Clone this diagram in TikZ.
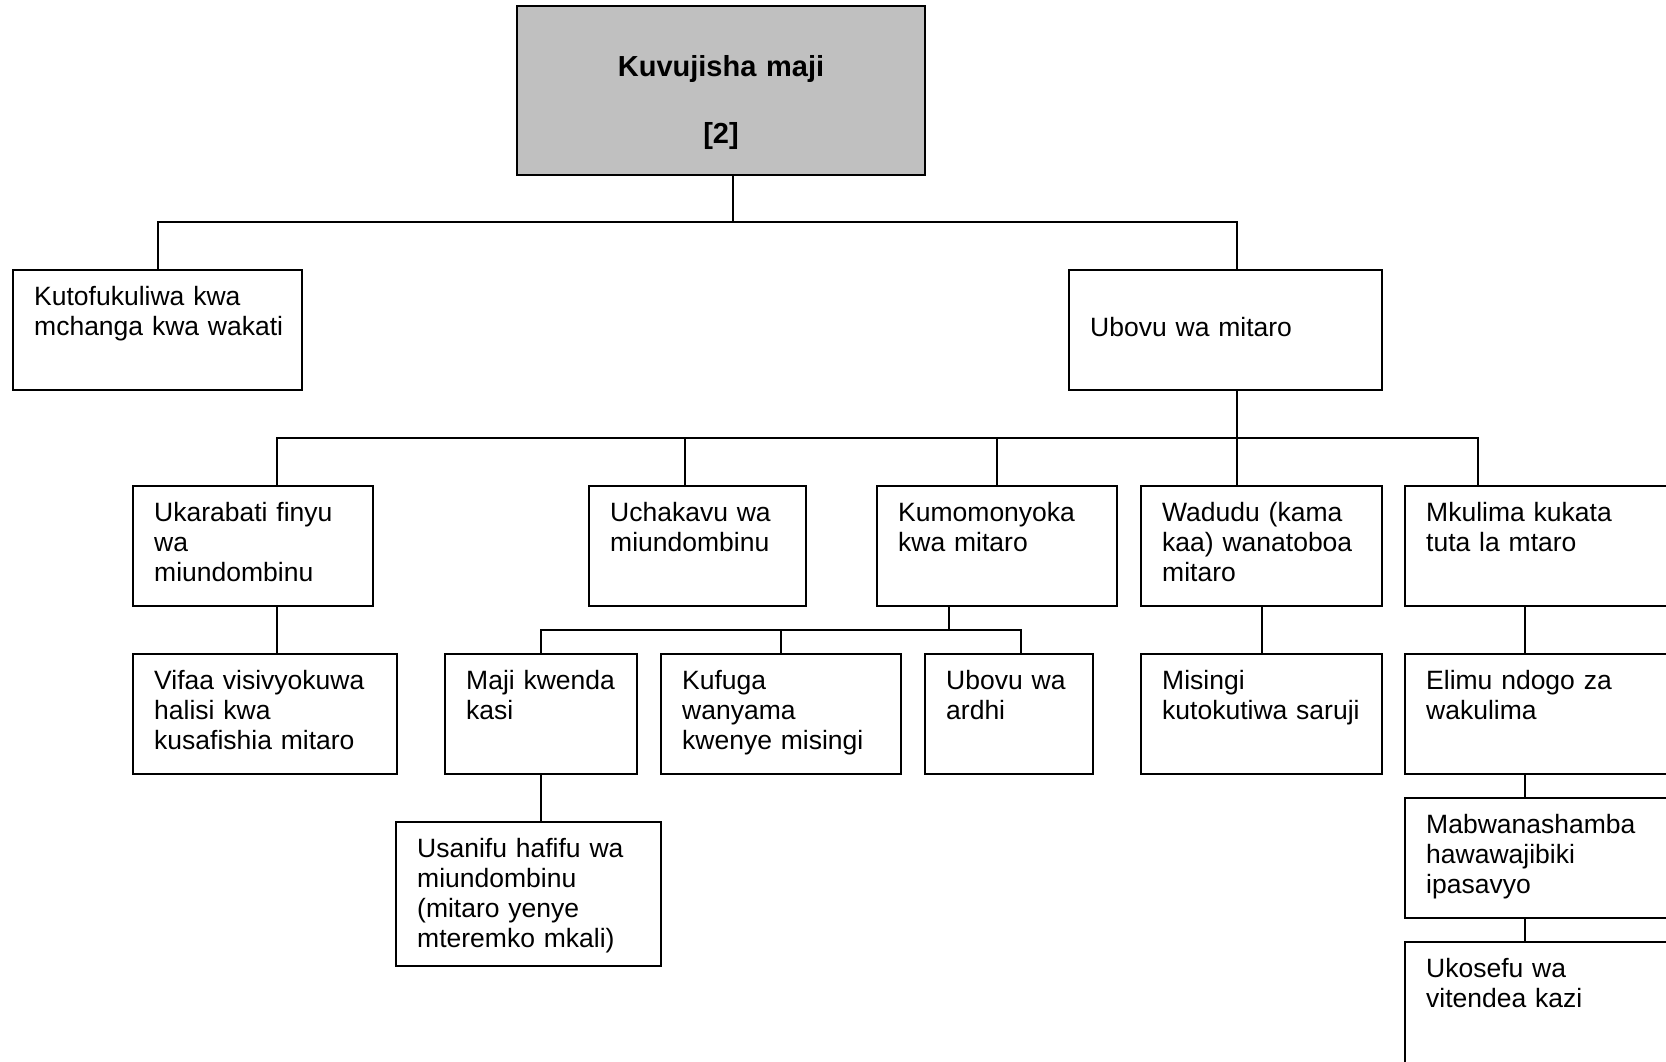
\documentclass[tikz,border=0pt]{standalone}
\usepackage{fontspec}
\setmainfont{Liberation Sans}
\definecolor{rootgray}{HTML}{C0C0C0}

% A cause box: name, left, top, width, height, text (first baseline 35 below the top)
\newcommand\causebox[6]{%
  \node[cbox, minimum width=#4pt, minimum height=#5pt] (#1) at (#2,#3) {};
  \pgfmathsetmacro\causetw{#4-25}%
  \node[ctext, text width=\causetw pt] (#1-t) at ([shift={(21,35)}]#1.north west) {#6};
}

\begin{document}
\begin{tikzpicture}[x=1pt,y=-1pt,
  cbox/.style={draw=black, line width=2pt, rectangle, inner sep=0pt, outer sep=0pt, anchor=north west},
  ctext/.style={anchor=base west, inner sep=0pt, align=left, font=\fontsize{26.5}{30}\selectfont},
  link/.style={draw=black, line width=2pt, line join=miter}]
\useasboundingbox (0,0) rectangle (1666,1061);
\clip (0,0) rectangle (1666,1061);
\fill[white] (0,0) rectangle (1666,1061);

% top of the tree
\node[cbox, fill=rootgray, minimum width=408pt, minimum height=169pt] (root) at (517,6) {};
\node[anchor=base, inner sep=0pt, text width=380pt, align=center,
      font=\bfseries\fontsize{29}{33}\selectfont] (root-t) at (721,76) {Kuvujisha maji\\[34pt]{[2]}};

% first level
\causebox{kutofukuliwa}{13}{270}{289}{120}{Kutofukuliwa kwa\\mchanga kwa wakati}
\node[cbox, minimum width=313pt, minimum height=120pt] (ubovu) at (1069,270) {};
\node[ctext, text width=280pt] (ubovu-t) at ([shift={(21,66)}]ubovu.north west) {Ubovu wa mitaro};

% second level
\causebox{ukarabati}{133}{486}{240}{120}{Ukarabati finyu\\wa\\miundombinu}
\causebox{uchakavu}{589}{486}{217}{120}{Uchakavu wa\\miundombinu}
\causebox{kumomonyoka}{877}{486}{240}{120}{Kumomonyoka\\kwa mitaro}
\causebox{wadudu}{1141}{486}{241}{120}{Wadudu (kama\\kaa) wanatoboa\\mitaro}
\causebox{mkulima}{1405}{486}{295}{120}{Mkulima kukata\\tuta la mtaro}

% third level
\causebox{vifaa}{133}{654}{264}{120}{Vifaa visivyokuwa\\halisi kwa\\kusafishia mitaro}
\causebox{maji}{445}{654}{192}{120}{Maji kwenda\\kasi}
\causebox{kufuga}{661}{654}{240}{120}{Kufuga\\wanyama\\kwenye misingi}
\causebox{ardhi}{925}{654}{168}{120}{Ubovu wa\\ardhi}
\causebox{misingi}{1141}{654}{241}{120}{Misingi\\kutokutiwa saruji}
\causebox{elimu}{1405}{654}{295}{120}{Elimu ndogo za\\wakulima}

% deeper levels
\causebox{usanifu}{396}{822}{265}{144}{Usanifu hafifu wa\\miundombinu\\(mitaro yenye\\mteremko mkali)}
\causebox{mabwana}{1405}{798}{295}{120}{Mabwanashamba\\hawawajibiki\\ipasavyo}
\causebox{ukosefu}{1405}{942}{295}{160}{Ukosefu wa\\vitendea kazi}

% junction points of the connectors
\coordinate (j0) at (733,222);
\coordinate (j0r) at (1237,222);
\coordinate (j1l) at (277,438);
\coordinate (j1a) at (685,438);
\coordinate (j1) at (1237,438);
\coordinate (j1r) at (1478,438);
\coordinate (j2) at (949,630);
\coordinate (j2r) at (1021,630);
\coordinate (j2u) at (277,630);
\coordinate (jm) at (1525,786);

% connectors
\draw[link] (root.south -| j0) -- (j0);
\draw[link] (kutofukuliwa.north) |- (j0r) -- (ubovu.north -| j0r);

\draw[link] (ubovu.south -| j1) -- (wadudu.north -| j1);
\draw[link] (ukarabati.north -| j1l) -- (j1l) -- (j1r) -- (mkulima.north -| j1r);
\draw[link] (j1a) -- (uchakavu.north -| j1a);
\draw[link] (kumomonyoka.north) -- (kumomonyoka.north |- j1);

\draw[link] (ukarabati.south -| j2u) -- (vifaa.north -| j2u);
\draw[link] (kumomonyoka.south -| j2) -- (j2);
\draw[link] (maji.north) |- (j2r) -- (ardhi.north -| j2r);
\draw[link] (kufuga.north) -- (kufuga.north |- j2);
\draw[link] (wadudu.south) -- (misingi.north);

\draw[link] (mkulima.south -| jm) -- (elimu.north -| jm);
\draw[link] (elimu.south -| jm) -- (mabwana.north -| jm);
\draw[link] (mabwana.south -| jm) -- (ukosefu.north -| jm);

\draw[link] (maji.south) -- (usanifu.north -| maji.south);
\end{tikzpicture}
\end{document}
